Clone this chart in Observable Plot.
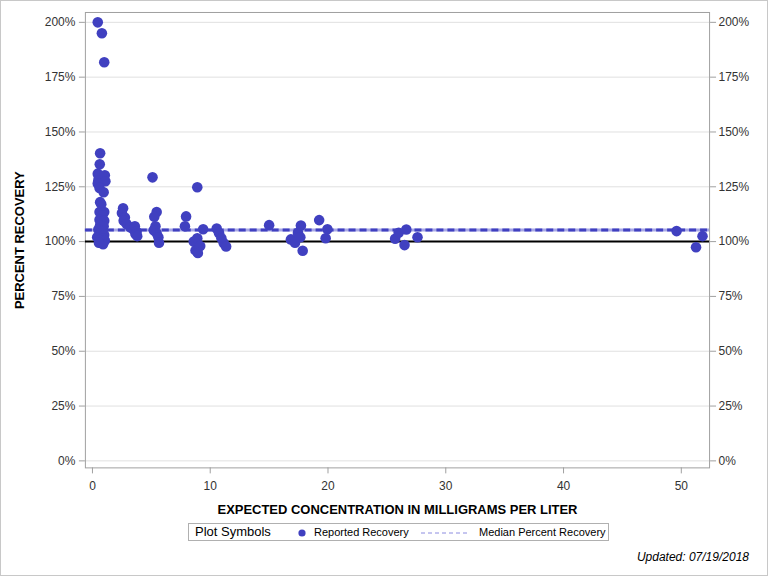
<!DOCTYPE html>
<html>
<head>
<meta charset="utf-8">
<script src="https://cdn.jsdelivr.net/npm/d3@7"></script>
<script src="https://cdn.jsdelivr.net/npm/@observablehq/plot@0.6"></script>
<style>
  html, body { margin: 0; padding: 0; background: #fff; }
  #wrap { position: relative; width: 768px; height: 576px; box-sizing: border-box; border: 1px solid #c8c8c8; overflow: hidden; font-family: "Liberation Sans", Arial, sans-serif; }
  #chart { position: absolute; left: -1px; top: -1px; }
  g[aria-label="x-axis label"] text, g[aria-label="y-axis label"] text { font-weight: bold; font-size: 13px; fill: #000; }
  #legend { position: absolute; left: 187px; top: 522px; width: 421px; height: 18px; border: 1px solid #b0b0b0; box-sizing: border-box; font-size: 11px; color: #000; background: #fff; }
  #legend span { position: absolute; top: 2px; white-space: nowrap; }
  #updated { position: absolute; right: 18px; top: 549px; font-size: 12px; font-style: italic; color: #000; }
</style>
</head>
<body>
<div id="wrap">
  <div id="chart"></div>
  <div id="legend">
    <span style="left:6px; top:0px; font-size:13px;">Plot Symbols</span>
    <svg style="position:absolute; left:108px; top:4px;" width="10" height="10"><circle cx="5" cy="5" r="3.6" fill="#4040c0"/></svg>
    <span style="left:125px;">Reported Recovery</span>
    <svg style="position:absolute; left:232px; top:8px;" width="48" height="2"><line x1="0" y1="1" x2="48" y2="1" stroke="#8c8ce0" stroke-width="1" stroke-dasharray="4,3"/></svg>
    <span style="left:290px;">Median Percent Recovery</span>
  </div>
  <div id="updated">Updated: 07/19/2018</div>
</div>
<script>
// Expected concentration (mg/L)
const concentration = [
  0.45, 0.80, 1.00, 0.65, 0.62, 0.45, 0.55, 1.05, 0.50, 1.10, 0.45, 0.60, 0.95, 0.65, 0.75, 0.60, 1.00, 0.85, 0.60, 1.00, 0.65, 0.95, 0.50, 0.80, 0.65, 1.00, 0.40, 0.85, 0.60, 1.05, 0.70, 0.90, 0.55,
  2.60, 2.50, 2.75, 2.65, 2.90, 3.20, 3.50, 3.60, 3.75, 3.65, 3.80,
  5.10, 5.45, 5.25, 5.35, 5.20, 5.45, 5.60, 5.65,
  7.95, 7.85, 8.90, 8.60, 8.90, 8.75, 9.15, 8.95, 9.40, 10.55, 10.75, 10.95, 11.15, 11.35,
  15.00, 16.85, 17.20, 17.45, 17.65, 17.70, 17.85, 19.25, 19.80, 19.95,
  25.70, 26.00, 26.65, 26.50, 27.60,
  49.60, 51.25, 51.80
];
// Percent recovery
const recovery = [
  200.0, 195.0, 181.8, 140.3, 135.3, 131.0, 129.5, 130.3, 128.0, 127.5, 126.5, 124.5, 122.5, 118.0, 117.0, 113.5, 113.5, 112.0, 110.0, 109.5, 107.5, 107.0, 105.5, 104.5, 103.0, 103.0, 102.0, 101.5, 100.8, 100.5, 99.5, 98.8, 99.5,
  115.2, 113.0, 111.0, 109.5, 108.0, 106.5, 105.5, 107.0, 104.5, 103.5, 102.5,
  129.3, 113.5, 111.3, 107.0, 105.2, 103.8, 102.0, 99.5,
  111.5, 107.0, 124.8, 100.0, 101.5, 96.0, 98.0, 94.8, 105.6, 106.0, 103.8, 101.5, 99.3, 97.8,
  107.5, 101.0, 99.5, 104.0, 102.0, 107.3, 95.8, 109.8, 101.5, 105.6,
  101.3, 104.0, 105.5, 98.4, 102.0,
  104.8, 97.4, 102.5
];
const medianRecovery = [105.3];
const referenceLine = [100];
const yTicks = [0, 25, 50, 75, 100, 125, 150, 175, 200];
const xTicks = [0, 10, 20, 30, 40, 50];

const data = concentration.map((c, i) => ({c, r: recovery[i]}));
const blue = "#4040c0";

const chart = Plot.plot({
  width: 768,
  height: 520,
  marginLeft: 85,
  marginRight: 58,
  marginTop: 12,
  marginBottom: 52,
  style: { fontFamily: "Liberation Sans, Arial, sans-serif", fontSize: "12px", color: "#333", background: "transparent" },
  x: { domain: [-0.6, 52.4] },
  y: { domain: [-3.2, 204.5] },
  marks: [
    Plot.gridY(yTicks, { stroke: "#e0e0e0", strokeOpacity: 1 }),
    Plot.frame({ stroke: "#a0a0a0" }),
    Plot.ruleY(referenceLine, { stroke: "#000", strokeWidth: 2 }),
    Plot.ruleY(medianRecovery, { stroke: "#a8a8e6", strokeWidth: 3 }),
    Plot.ruleY(medianRecovery, { stroke: blue, strokeWidth: 3, strokeDasharray: "7,4" }),
    Plot.dot(data, { x: "c", y: "r", r: 5.3, fill: blue, stroke: "none" }),
    Plot.axisY(yTicks, { anchor: "left", tickFormat: d => d + "%", tickSize: 6, tickPadding: 4, stroke: "#a0a0a0", label: "PERCENT RECOVERY", labelAnchor: "center", labelArrow: "none", labelOffset: 71 }),
    Plot.axisY(yTicks, { anchor: "right", tickFormat: d => d + "%", tickSize: 6, tickPadding: 3, stroke: "#a0a0a0", label: null }),
    Plot.axisX(xTicks, { anchor: "bottom", tickSize: 6, tickPadding: 8, stroke: "#a0a0a0", label: "EXPECTED CONCENTRATION IN MILLIGRAMS PER LITER", labelAnchor: "center", labelArrow: "none", labelOffset: 46 })
  ]
});
document.getElementById("chart").appendChild(chart);
</script>
</body>
</html>
